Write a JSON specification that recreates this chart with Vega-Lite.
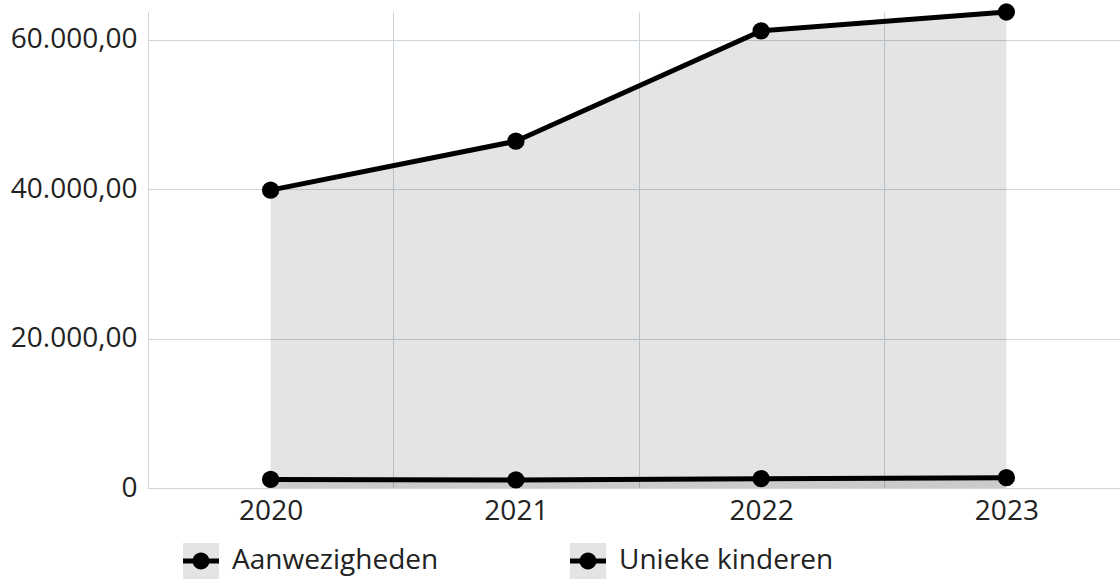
{
  "$schema": "https://vega.github.io/schema/vega-lite/v6.json",
  "autosize": "none",
  "width": 981,
  "height": 476,
  "padding": {"left": 148, "top": 12, "right": -9, "bottom": 91},
  "config": {
    "view": {"stroke": null},
    "font": "Open Sans",
    "locale": {"number": {"decimal": ",", "thousands": ".", "grouping": [3], "currency": ["€", ""]}},
    "legend": {
      "orient": "none",
      "direction": "horizontal",
      "columns": 2,
      "title": null,
      "padding": 0,
      "labelFontSize": 28,
      "labelColor": "#222222",
      "labelOffset": 13,
      "labelLimit": 400,
      "columnPadding": 131,
      "symbolSize": 1296,
      "symbolStrokeWidth": 0,
      "legendX": 35,
      "legendY": 531
    }
  },
  "data": {
    "values": [
      {"year": "2020", "series": "Aanwezigheden", "reeks": "Aanwezigheden", "value": 39850},
      {"year": "2021", "series": "Aanwezigheden", "reeks": "Aanwezigheden", "value": 46400},
      {"year": "2022", "series": "Aanwezigheden", "reeks": "Aanwezigheden", "value": 61150},
      {"year": "2023", "series": "Aanwezigheden", "reeks": "Aanwezigheden", "value": 63680},
      {"year": "2020", "series": "Unieke kinderen", "reeks": "Unieke kinderen", "value": 1150},
      {"year": "2021", "series": "Unieke kinderen", "reeks": "Unieke kinderen", "value": 1080},
      {"year": "2022", "series": "Unieke kinderen", "reeks": "Unieke kinderen", "value": 1250},
      {"year": "2023", "series": "Unieke kinderen", "reeks": "Unieke kinderen", "value": 1380}
    ]
  },
  "encoding": {
    "x": {
      "field": "year",
      "type": "ordinal",
      "scale": {"type": "band", "paddingInner": 0, "paddingOuter": 0},
      "axis": {
        "title": null,
        "labelAngle": 0,
        "ticks": false,
        "tickBand": "extent",
        "grid": true,
        "gridColor": "#ccd5de",
        "gridWidth": 1,
        "domainColor": "#ccd5de",
        "labelFontSize": 28,
        "labelColor": "#222222",
        "labelPadding": 9
      }
    },
    "y": {
      "field": "value",
      "type": "quantitative",
      "stack": null,
      "scale": {"domain": [0, 63680], "nice": false},
      "axis": {
        "title": null,
        "values": [0, 20000, 40000, 60000],
        "ticks": false,
        "labelExpr": "datum.value === 0 ? '0' : format(datum.value, ',.2f')",
        "grid": true,
        "gridColor": "#ccd5de",
        "domainColor": "#ccd5de",
        "labelFontSize": 28,
        "labelColor": "#222222",
        "labelPadding": 11
      }
    }
  },
  "layer": [
    {
      "mark": {"type": "area", "fillOpacity": 0.105},
      "encoding": {
        "fill": {
          "field": "series",
          "type": "nominal",
          "scale": {"range": ["#000000", "#000000"]},
          "legend": {"symbolType": "square", "symbolOpacity": 0.105, "labelOpacity": 0}
        }
      }
    },
    {
      "mark": {"type": "line", "strokeWidth": 5, "color": "#000000"},
      "encoding": {"detail": {"field": "series"}}
    },
    {
      "mark": {"type": "circle", "size": 300, "opacity": 1},
      "encoding": {
        "fill": {
          "field": "reeks",
          "type": "nominal",
          "scale": {"range": ["#000000", "#000000"]},
          "legend": {
            "symbolType": "M-1,-0.14H1V0.14H-1Z M0.47,0A0.47,0.47 0 1 1 -0.47,0A0.47,0.47 0 1 1 0.47,0Z",
            "symbolOpacity": 1,
            "symbolFillColor": "#000000"
          }
        }
      }
    }
  ],
  "resolve": {"scale": {"fill": "independent"}, "legend": {"fill": "independent"}}
}
